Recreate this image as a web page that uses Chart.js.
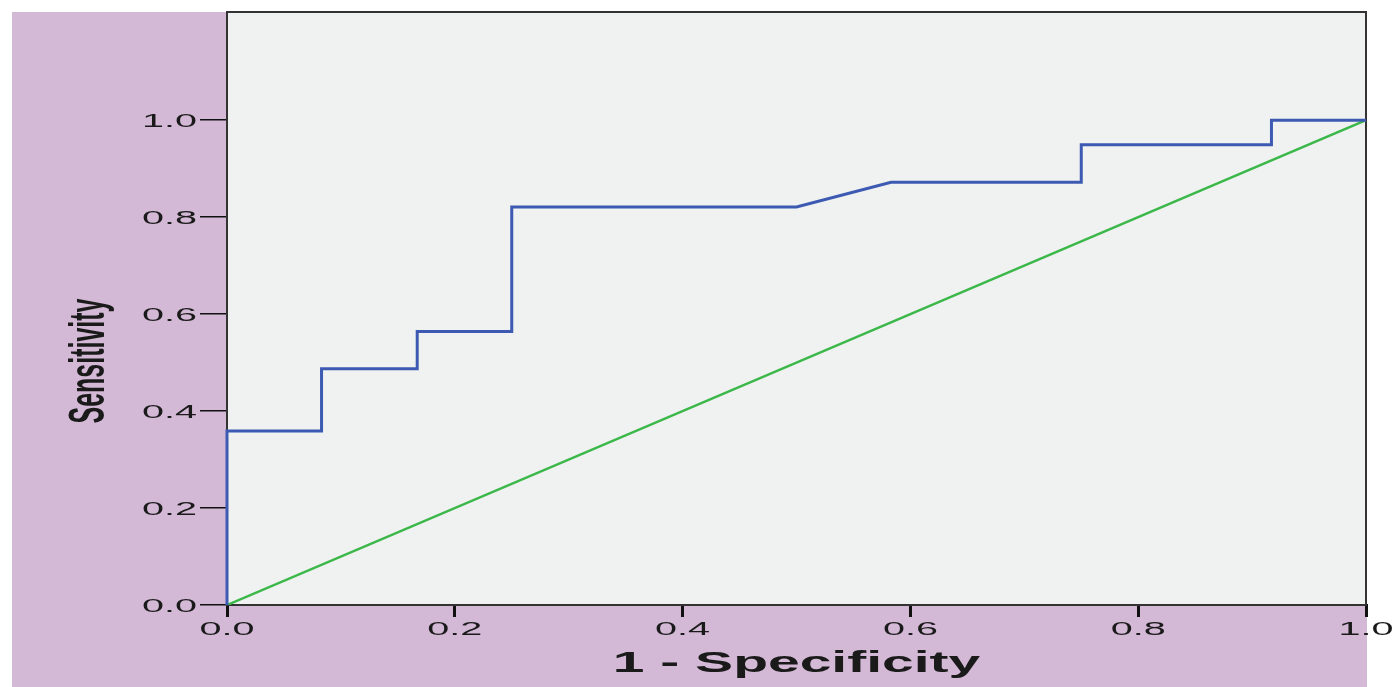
<!DOCTYPE html>
<html>
<head>
<meta charset="utf-8">
<script src="https://cdn.jsdelivr.net/npm/chart.js@4.4.1/dist/chart.umd.min.js"></script>
<style>
  html, body { margin: 0; padding: 0; background: #ffffff; }
  canvas { display: block; }
</style>
</head>
<body>
<canvas id="roc_grf" width="1394" height="687"></canvas>
<script>
const fprValores = [0, 0, 0.083, 0.083, 0.167, 0.167, 0.25, 0.25, 0.5, 0.583, 0.75, 0.75, 0.917, 0.917, 1];
const tprValores = [0, 0.359, 0.359, 0.487, 0.487, 0.564, 0.564, 0.821, 0.821, 0.872, 0.872, 0.949, 0.949, 1, 1];
const refX = [0, 1];
const refY = [0, 1];
const xTicks = [0, 0.2, 0.4, 0.6, 0.8, 1.0];
const yTicks = [0, 0.2, 0.4, 0.6, 0.8, 1.0];
const xTitulo = '1 - Specificity';
const yTitulo = 'Sensitivity';

const morado = '#d4b9d6';
const fondoPlot = '#f0f2f1';
const fuente = '"Liberation Sans", Arial, sans-serif';

function textoEstirado(ctx, txt, x, y, sx, align, rotar) {
    ctx.save();
    ctx.translate(x, y);
    ctx.scale(sx, 1);
    if (rotar) ctx.rotate(-Math.PI / 2);
    ctx.textAlign = align;
    ctx.textBaseline = 'middle';
    ctx.fillText(txt, 0, 0);
    ctx.restore();
}

const fondoPlugin = {
    id: 'fondo',
    beforeDraw(chart) {
        const { ctx, chartArea: a } = chart;
        ctx.save();
        ctx.fillStyle = morado;
        ctx.fillRect(12, 12, a.right - 11, chart.height - 12);
        ctx.fillStyle = fondoPlot;
        ctx.fillRect(a.left, a.top, a.right - a.left, a.bottom - a.top);
        ctx.restore();
    },
    beforeDatasetsDraw(chart) {
        // marco del area de trazado, por debajo de las lineas
        const { ctx, chartArea: a } = chart;
        ctx.save();
        ctx.strokeStyle = '#333333';
        ctx.lineWidth = 2;
        ctx.strokeRect(a.left, a.top, a.right - a.left, a.bottom - a.top);
        ctx.restore();
    },
    afterDraw(chart) {
        const { ctx, chartArea: a } = chart;
        const sx = chart.scales.x, sy = chart.scales.y;
        ctx.save();
        ctx.fillStyle = '#1a1a1a';
        ctx.font = '18px ' + fuente;
        yTicks.forEach(v => {
            textoEstirado(ctx, v.toFixed(1), a.left - 30, sy.getPixelForValue(v) + 2, 2.2, 'right');
        });
        xTicks.forEach(v => {
            textoEstirado(ctx, v.toFixed(1), sx.getPixelForValue(v), a.bottom + 25, 2.2, 'center');
        });

        ctx.font = 'bold 30px ' + fuente;
        textoEstirado(ctx, xTitulo, (a.left + a.right) / 2, a.bottom + 59, 1.9, 'center');
        ctx.font = 'bold 25px ' + fuente;
        textoEstirado(ctx, yTitulo, 90, 361, 2.0, 'center', true);
        ctx.restore();
    }
};

const ctx = document.getElementById('roc_grf').getContext('2d');
new Chart(ctx, {
    type: 'line',
    data: {
        datasets: [
            {
                label: 'ROC',
                data: fprValores.map((x, i) => ({ x: x, y: tprValores[i] })),
                borderColor: '#3d5ab3',
                borderWidth: 3,
                pointRadius: 0,
                tension: 0,
                fill: false,
                clip: 3
            },
            {
                label: 'Referencia',
                data: refX.map((x, i) => ({ x: x, y: refY[i] })),
                borderColor: '#3cb84a',
                borderWidth: 2.5,
                pointRadius: 0,
                tension: 0,
                fill: false
            }
        ]
    },
    options: {
        responsive: false,
        animation: false,
        devicePixelRatio: 1,
        layout: { padding: { left: 200, top: 12, right: 28, bottom: 70 } },
        plugins: {
            legend: { display: false },
            tooltip: { enabled: false }
        },
        scales: {
            x: {
                type: 'linear',
                min: 0,
                max: 1,
                afterBuildTicks: s => { s.ticks = xTicks.map(v => ({ value: v })); },
                ticks: { display: false },
                grid: { drawOnChartArea: false, drawTicks: true, tickLength: 12, color: '#111', lineWidth: 3 },
                border: { display: true, color: '#111', width: 2 }
            },
            y: {
                type: 'linear',
                min: 0,
                max: 1.223,
                afterBuildTicks: s => { s.ticks = yTicks.map(v => ({ value: v })); },
                ticks: { display: false },
                grid: { drawOnChartArea: false, drawTicks: true, tickLength: 27, color: '#111', lineWidth: 1.5 },
                border: { display: true, color: '#111', width: 2 }
            }
        }
    },
    plugins: [fondoPlugin]
});
</script>
</body>
</html>
